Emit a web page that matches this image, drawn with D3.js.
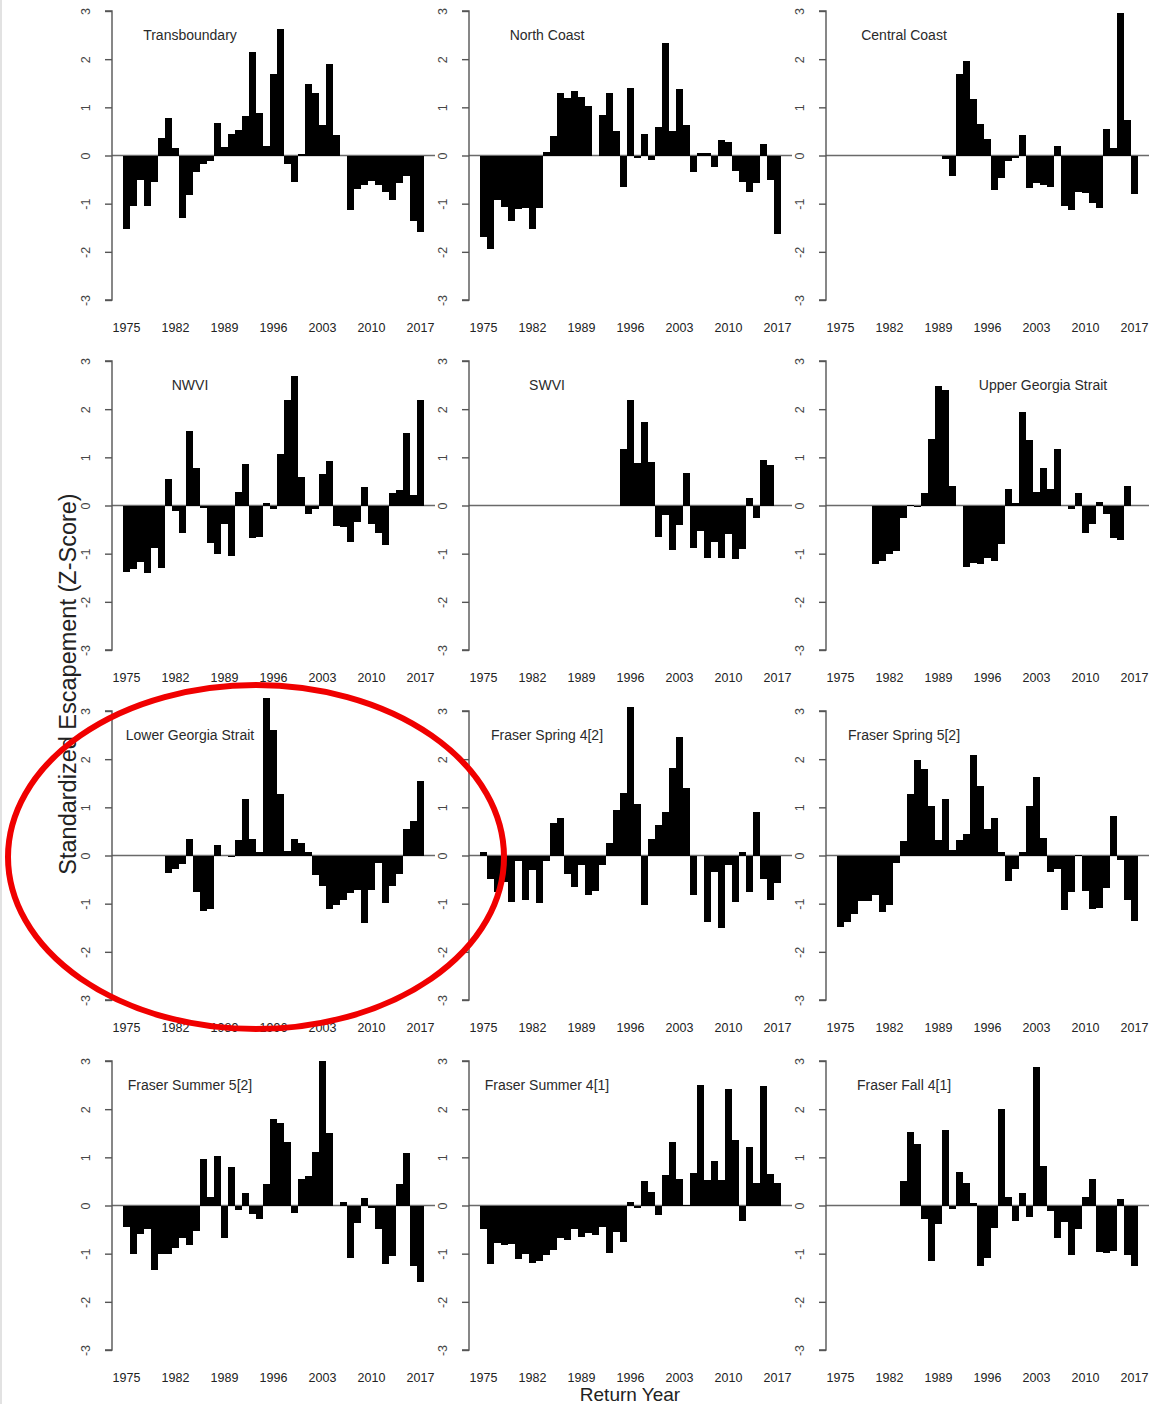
<!DOCTYPE html>
<html>
<head>
<meta charset="utf-8">
<script src="https://cdn.jsdelivr.net/npm/d3@7"></script>
<style>
  html, body { margin: 0; padding: 0; background: #fff; }
  svg { display: block; }
  text { font-family: "Liberation Sans", Arial, Helvetica, sans-serif; }
</style>
</head>
<body>
<svg id="chart" width="1156" height="1404"></svg>
<script>
// ---------------- DATA ----------------
const years = [1975,1976,1977,1978,1979,1980,1981,1982,1983,1984,1985,1986,1987,1988,1989,
  1990,1991,1992,1993,1994,1995,1996,1997,1998,1999,2000,2001,2002,2003,2004,2005,2006,2007,
  2008,2009,2010,2011,2012,2013,2014,2015,2016,2017];
const tickYears = [1975, 1982, 1989, 1996, 2003, 2010, 2017];
const yTicks = [-3, -2, -1, 0, 1, 2, 3];

const panelTitles = ["Transboundary", "North Coast", "Central Coast",
  "NWVI", "SWVI", "Upper Georgia Strait",
  "Lower Georgia Strait", "Fraser Spring 4[2]", "Fraser Spring 5[2]",
  "Fraser Summer 5[2]", "Fraser Summer 4[1]", "Fraser Fall 4[1]"];

const transboundary = [-1.53,-1.05,-0.50,-1.05,-0.55, 0.37,0.77,0.15,-1.30,-0.83,
  -0.35,-0.17,-0.12,0.68,0.17, 0.44,0.53,0.81,2.15,0.88, 0.19,1.69,2.63,-0.17,-0.56,
  0.03,1.48,1.30,0.63,1.91, 0.43,0.00,-1.13,-0.69,-0.61, -0.52,-0.62,-0.75,-0.92,-0.58,
  -0.43,-1.35,-1.58];
const northCoast = [-1.70,-1.94,-0.92,-1.06,-1.35, -1.11,-1.10,-1.53,-1.10,0.08,
  0.40,1.30,1.19,1.33,1.22, 1.02,0.00,0.85,1.30,0.50, -0.66,1.40,-0.05,0.45,-0.10,
  0.60,2.34,0.50,1.38,0.63, -0.35,0.05,0.06,-0.24,0.33, 0.27,-0.33,-0.56,-0.75,-0.58,
  0.24,-0.50,-1.62];
const centralCoast = [null,null,null,null,null, null,null,null,null,null,
  null,null,null,null,null, -0.08,-0.42,1.69,1.97,1.17, 0.65,0.35,-0.71,-0.47,-0.12,
  -0.05,0.43,-0.68,-0.58,-0.62, -0.65,0.19,-1.05,-1.13,-0.76, -0.78,-0.98,-1.10,0.56,0.15,
  2.95,0.73,-0.80];
const nwvi = [-1.39,-1.32,-1.17,-1.41,-0.88, -1.29,0.55,-0.12,-0.58,1.55,
  0.78,-0.05,-0.77,-1.01,-0.38, -1.05,0.28,0.86,-0.68,-0.66, 0.06,-0.08,1.06,2.18,2.69,
  0.59,-0.17,-0.07,0.65,0.92, -0.43,-0.45,-0.76,-0.34,0.38, -0.38,-0.57,-0.83,0.25,0.33,
  1.50,0.22,2.18];
const swvi = [null,null,null,null,null, null,null,null,null,null,
  null,null,null,null,null, null,null,null,null,null, 1.18,2.19,0.88,1.73,0.90,
  -0.65,-0.19,-0.93,-0.41,0.67, -0.88,-0.52,-1.10,-0.76,-1.10, -0.60,-1.12,-0.91,0.15,-0.26,
  0.95,0.85,null];
const upperGeorgiaStrait = [null,null,null,null,null, -1.22,-1.15,-1.01,-0.94,-0.26,
  0.02,-0.03,0.25,1.38,2.48, 2.40,0.40,-0.01,-1.27,-1.20, -1.22,-1.10,-1.15,-0.79,0.35,
  0.05,1.95,1.36,0.27,0.78, 0.35,1.18,0.00,-0.08,0.25, -0.58,-0.38,0.08,-0.17,-0.68,
  -0.72,0.40,null];
const lowerGeorgiaStrait = [null,null,null,null,null, null,-0.37,-0.28,-0.18,0.35,
  -0.75,-1.15,-1.12,0.22,-0.02, -0.03,0.32,1.17,0.35,0.07, 3.26,2.60,1.27,0.10,0.35,
  0.25,0.07,-0.40,-0.63,-1.11, -1.03,-0.93,-0.78,-0.72,-1.41, -0.72,-0.15,-0.99,-0.63,-0.38,
  0.55,0.72,1.55];
const fraserSpring4 = [0.08,-0.49,-0.75,-0.55,-0.97, -0.12,-0.92,-0.30,-0.99,-0.12,
  0.68,0.78,-0.38,-0.66,-0.20, -0.83,-0.73,-0.20,0.25,0.95, 1.30,3.08,1.06,-1.02,0.35,
  0.63,0.90,1.81,2.47,1.40, -0.83,0.00,-1.39,-0.35,-1.51, -0.20,-0.97,0.08,-0.75,0.90,
  -0.48,-0.92,-0.58];
const fraserSpring5 = [-1.48,-1.39,-1.22,-0.94,-0.94, -0.81,-1.18,-1.03,-0.15,0.30,
  1.27,1.98,1.80,1.03,0.32, 1.18,0.12,0.32,0.45,2.08, 1.45,0.55,0.78,0.07,-0.52,
  -0.27,0.08,1.02,1.63,0.37, -0.35,-0.28,-1.13,-0.75,0.02, -0.73,-1.12,-1.10,-0.68,0.82,
  -0.10,-0.92,-1.35];
const fraserSummer5 = [-0.45,-1.00,-0.59,-0.48,-1.34, -1.00,-1.00,-0.88,-0.68,-0.82,
  -0.52,0.97,0.17,1.02,-0.68, 0.80,-0.10,0.25,-0.18,-0.28, 0.45,1.80,1.72,1.32,-0.15,
  0.55,0.62,1.12,2.99,1.50, -0.02,0.08,-1.08,-0.37,0.15, -0.05,-0.48,-1.22,-1.05,0.45,
  1.10,-1.26,-1.58];
const fraserSummer4 = [-0.48,-1.21,-0.78,-0.82,-0.80, -1.12,-1.00,-1.19,-1.15,-1.03,
  -0.93,-0.67,-0.72,-0.48,-0.65, -0.58,-0.62,-0.45,-0.98,-0.55, -0.75,0.08,-0.05,0.50,0.27,
  -0.20,0.63,1.32,0.55,0.02, 0.68,2.50,0.52,0.93,0.52, 2.42,1.35,-0.32,1.21,0.47,
  2.48,0.65,0.47];
const fraserFall4 = [null,null,null,null,null, null,null,null,null,0.50,
  1.52,1.27,-0.28,-1.15,-0.38, 1.57,-0.07,0.70,0.47,0.05, -1.25,-1.10,-0.47,2.00,0.18,
  -0.32,0.25,-0.23,2.88,0.83, -0.12,-0.67,-0.35,-1.03,-0.48, 0.18,0.55,-0.97,-0.98,-0.95,
  0.13,-1.02,-1.25];

const seriesList = [transboundary, northCoast, centralCoast, nwvi, swvi, upperGeorgiaStrait,
  lowerGeorgiaStrait, fraserSpring4, fraserSpring5, fraserSummer5, fraserSummer4, fraserFall4];

// ---------------- LAYOUT ----------------
const svg = d3.select("#chart");
const colBarsLeft = [123, 480, 837];
const rowTop = [0, 350, 700, 1050];
const barsWidth = 301;
const titleOffset = [78, 78, 78, 78, 78, 217, 78, 78, 78, 78, 78, 78];
const fontStack = '"Liberation Sans", Arial, Helvetica, sans-serif';

svg.append("rect").attr("x", 0).attr("y", 0).attr("width", 1156).attr("height", 1404).attr("fill", "#fff");
svg.append("line").attr("x1", 1).attr("x2", 1).attr("y1", 0).attr("y2", 1404)
  .attr("stroke", "#e2e2e2").attr("stroke-width", 2);

seriesList.forEach((vals, k) => {
  const r = Math.floor(k / 3), c = k % 3;
  const left = colBarsLeft[c], top = rowTop[r];
  const axisX = left - 11;
  const x = d3.scaleBand().domain(years).range([left, left + barsWidth]).padding(0);
  const y = d3.scaleLinear().domain([-3, 3]).range([top + 300, top + 11]);
  const g = svg.append("g");

  // zero line
  g.append("line")
    .attr("x1", axisX).attr("x2", left + barsWidth + 11)
    .attr("y1", y(0)).attr("y2", y(0))
    .attr("stroke", "#6a6a6a").attr("stroke-width", 1.3);

  // bars
  const data = years.map((yr, i) => ({ yr, v: vals[i] })).filter(d => d.v !== null);
  g.selectAll("rect.bar").data(data).join("rect")
    .attr("class", "bar")
    .attr("x", d => x(d.yr))
    .attr("width", x.bandwidth())
    .attr("y", d => Math.min(y(d.v), y(0)))
    .attr("height", d => Math.abs(y(d.v) - y(0)))
    .attr("fill", "#000")
    .attr("shape-rendering", "crispEdges");

  // y axis
  const yAxis = d3.axisLeft(y).tickValues(yTicks).tickSize(7).tickFormat(d3.format("d"));
  const ag = g.append("g").attr("transform", `translate(${axisX},0)`).call(yAxis);
  ag.select(".domain").attr("stroke", "#555").attr("stroke-width", 1.4)
    .attr("d", `M-7,${y(3)}H0V${y(-3)}H-7`);
  ag.selectAll(".tick line").attr("stroke", "#555").attr("stroke-width", 1.4);
  ag.selectAll(".tick text")
    .attr("x", 0).attr("dy", null)
    .attr("transform", d => `translate(-26,${0}) rotate(-90)`)
    .attr("text-anchor", "middle")
    .attr("dominant-baseline", "central")
    .attr("font-size", 12.5)
    .attr("font-family", fontStack)
    .attr("fill", "#444")
    .text(d => d === 0 ? "0" : (d < 0 ? "-" + Math.abs(d) : String(d)));

  // x labels
  const xAxis = d3.axisBottom(x).tickValues(tickYears).tickSize(0).tickPadding(0);
  const xg = g.append("g").attr("transform", `translate(0,${top + 328})`).call(xAxis);
  xg.select(".domain").remove();
  xg.selectAll(".tick text")
    .attr("y", 0).attr("dy", null)
    .attr("dominant-baseline", "central")
    .attr("font-size", 12.5)
    .attr("font-family", fontStack)
    .attr("fill", "#222");

  // title
  g.append("text")
    .attr("x", axisX + titleOffset[k])
    .attr("y", top + 35)
    .attr("text-anchor", "middle")
    .attr("dominant-baseline", "central")
    .attr("font-size", 14)
    .attr("fill", "#2a2a2a")
    .text(panelTitles[k]);
});

// axis titles
svg.append("text")
  .attr("transform", "translate(68,684) rotate(-90)")
  .attr("text-anchor", "middle")
  .attr("dominant-baseline", "central")
  .attr("font-size", 23.5)
  .attr("fill", "#222")
  .text("Standardized Escapement (Z-Score)");

svg.append("text")
  .attr("x", 630).attr("y", 1401)
  .attr("text-anchor", "middle")
  .attr("font-size", 19)
  .attr("fill", "#222")
  .text("Return Year");

// red annotation ellipse
svg.append("ellipse")
  .attr("cx", 256).attr("cy", 857)
  .attr("rx", 248).attr("ry", 172)
  .attr("fill", "none")
  .attr("stroke", "#f00000")
  .attr("stroke-width", 6);
</script>
</body>
</html>
